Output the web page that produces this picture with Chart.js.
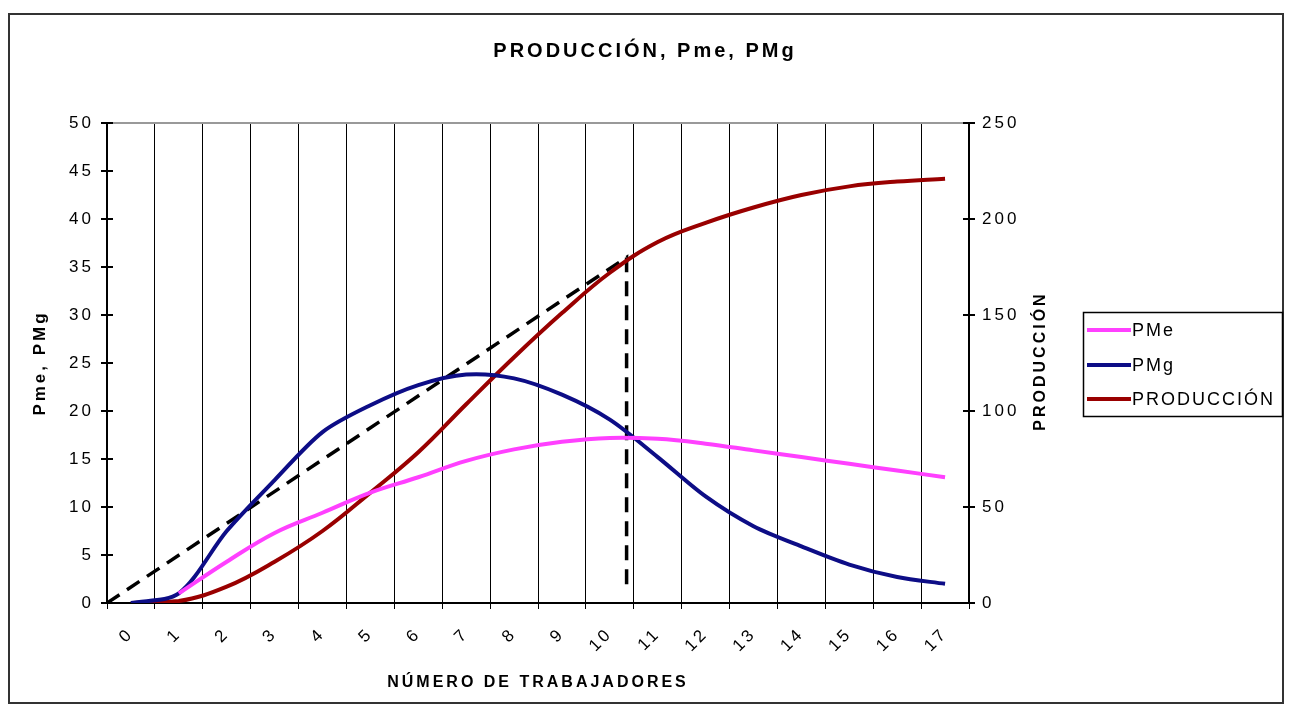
<!DOCTYPE html>
<html>
<head>
<meta charset="utf-8">
<script src="https://cdn.jsdelivr.net/npm/chart.js@4/dist/chart.umd.min.js"></script>
<style>
  html, body { margin: 0; padding: 0; background: #fff; }
  #wrap { width: 1290px; height: 711px; }
</style>
</head>
<body>
<div id="wrap"><canvas id="chart" width="1290" height="711"></canvas></div>
<script>
(function () {
  'use strict';

  // categories (number of workers)
  const workers = ['0', '1', '2', '3', '4', '5', '6', '7', '8', '9', '10', '11', '12', '13', '14', '15', '16', '17'];

  // series
  const pme = [null, 1.0, 4.3, 7.3, 9.4, 11.5, 13.1, 14.8, 16.0, 16.8, 17.2, 17.1, 16.6, 15.9, 15.2, 14.5, 13.8, 13.1];
  const pmg = [0, 1.0, 7.5, 12.8, 17.8, 20.6, 22.7, 23.8, 23.4, 21.7, 19.1, 15.2, 11.1, 8.0, 5.9, 4.0, 2.7, 2.0];
  const produccion = [0, 1, 8.5, 21.5, 37.5, 57.5, 78.5, 103.5, 128, 151, 172, 188, 198, 206, 212.5, 217, 219.5, 221];

  // dashed tangent line (category units, left axis units)
  const tangentX = [-0.5, 10.35, 10.35];
  const tangentY = [0, 36, 1.5];

  // axis ranges
  const leftMax = 50, leftStep = 5;
  const rightMax = 250, rightStep = 50;

  const FONT = '"Liberation Sans", Arial, sans-serif';
  Chart.defaults.font.family = FONT;
  Chart.defaults.color = '#000';

  const tangentData = tangentX.map(function (x, i) { return { x: x, y: tangentY[i] }; });

  // frame, inner ticks, right title and legend
  const excelBits = {
    id: 'excelBits',
    beforeDraw: function (chart) {
      chart.ctx.letterSpacing = '3px';
    },
    afterDraw: function (chart) {
      const ctx = chart.ctx;
      const area = chart.chartArea;
      ctx.save();
      ctx.letterSpacing = '0px';

      // plot top border
      ctx.strokeStyle = '#999';
      ctx.lineWidth = 2;
      ctx.beginPath();
      ctx.moveTo(area.left, area.top);
      ctx.lineTo(area.right, area.top);
      ctx.stroke();

      // ticks crossing into the plot
      ctx.strokeStyle = '#000';
      ctx.lineWidth = 2;
      const yl = chart.scales.y, yr = chart.scales.y2;
      yl.ticks.forEach(function (t, i) {
        const py = Math.round(yl.getPixelForTick(i));
        ctx.beginPath(); ctx.moveTo(area.left, py); ctx.lineTo(area.left + 6, py); ctx.stroke();
      });
      yr.ticks.forEach(function (t, i) {
        const py = Math.round(yr.getPixelForTick(i));
        ctx.beginPath(); ctx.moveTo(area.right - 6, py); ctx.lineTo(area.right, py); ctx.stroke();
      });

      // outer frame
      ctx.strokeStyle = '#333';
      ctx.lineWidth = 2;
      ctx.strokeRect(9, 14, 1274, 689);

      // right axis title, reading upwards
      ctx.save();
      ctx.translate(1041, (area.top + area.bottom) / 2);
      ctx.rotate(-Math.PI / 2);
      ctx.font = 'bold 16px ' + FONT;
      ctx.letterSpacing = '3px';
      ctx.textAlign = 'center';
      ctx.textBaseline = 'middle';
      ctx.fillStyle = '#000';
      ctx.fillText('PRODUCCIÓN', 2, 0);
      ctx.restore();

      // legend
      ctx.strokeStyle = '#000';
      ctx.lineWidth = 1.5;
      ctx.strokeRect(1083.5, 312.5, 199, 104);
      ctx.font = '18px ' + FONT;
      ctx.letterSpacing = '2px';
      ctx.textAlign = 'left';
      ctx.textBaseline = 'middle';
      ctx.fillStyle = '#000';
      const rows = [330, 365, 399];
      chart.data.datasets.slice(0, 3).forEach(function (ds, i) {
        ctx.strokeStyle = ds.borderColor;
        ctx.lineWidth = 4;
        ctx.beginPath();
        ctx.moveTo(1087, rows[i]);
        ctx.lineTo(1131, rows[i]);
        ctx.stroke();
        ctx.fillText(ds.label, 1132, rows[i] + 1);
      });

      ctx.restore();
      ctx.letterSpacing = '0px';
    }
  };

  const ctx = document.getElementById('chart').getContext('2d');

  new Chart(ctx, {
    type: 'line',
    data: {
      labels: workers,
      datasets: [
        { label: 'PMe', data: pme, borderColor: '#ff40ff', yAxisID: 'y', xAxisID: 'x' },
        { label: 'PMg', data: pmg, borderColor: '#0d0d86', tension: 0.3, yAxisID: 'y', xAxisID: 'x' },
        { label: 'PRODUCCIÓN', data: produccion, borderColor: '#990000', yAxisID: 'y2', xAxisID: 'x' },
        { label: 'tangente', data: tangentData, borderColor: '#000', borderWidth: 3.5,
          borderDash: [15, 9], tension: 0, yAxisID: 'y', xAxisID: 'x2' }
      ]
    },
    options: {
      responsive: false,
      animation: false,
      devicePixelRatio: 1,
      layout: { padding: 0 },
      elements: {
        point: { radius: 0 },
        line: { borderWidth: 4, tension: 0.4, fill: false, capBezierPoints: true }
      },
      plugins: {
        legend: { display: false },
        tooltip: { enabled: false },
        title: {
          display: true,
          text: 'PRODUCCIÓN, Pme, PMg',
          font: { size: 20, weight: 'bold' },
          color: '#000',
          padding: { top: 39, bottom: 60 }
        }
      },
      scales: {
        x: {
          type: 'category',
          offset: true,
          grid: { offset: true, color: '#000', lineWidth: 1, tickLength: 6, drawTicks: true },
          border: { color: '#000', width: 2 },
          ticks: { autoSkip: false, minRotation: 45, maxRotation: 45, padding: 15, font: { size: 17 } },
          title: {
            display: true,
            text: 'NÚMERO DE TRABAJADORES',
            font: { size: 16, weight: 'bold' },
            padding: { top: 0, bottom: 19 }
          },
          afterFit: function (scale) { scale.height = 108; }
        },
        x2: {
          type: 'linear',
          display: false,
          min: -0.5,
          max: workers.length - 0.5
        },
        y: {
          position: 'left',
          min: 0,
          max: leftMax,
          ticks: { stepSize: leftStep, padding: 7, font: { size: 17 } },
          grid: { drawOnChartArea: false, color: '#000', tickLength: 6, lineWidth: 2 },
          border: { color: '#000', width: 2 },
          title: {
            display: true,
            text: 'Pme, PMg',
            font: { size: 17, weight: 'bold' },
            padding: { top: 30, bottom: 0 }
          },
          afterFit: function (scale) { scale.width = 107; }
        },
        y2: {
          position: 'right',
          min: 0,
          max: rightMax,
          ticks: { stepSize: rightStep, padding: 7, font: { size: 17 } },
          grid: { drawOnChartArea: false, color: '#000', tickLength: 6, lineWidth: 2 },
          border: { color: '#000', width: 2 },
          afterFit: function (scale) { scale.width = 321; }
        }
      }
    },
    plugins: [excelBits]
  });
})();
</script>
</body>
</html>
